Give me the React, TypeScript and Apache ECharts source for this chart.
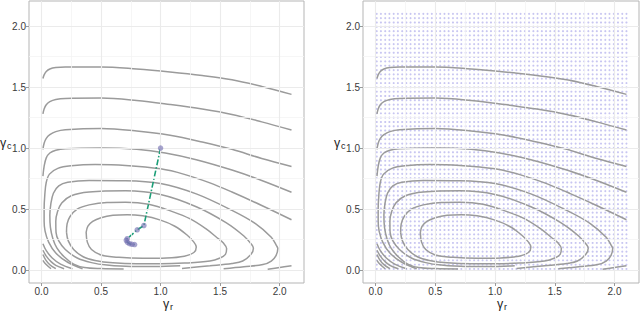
import React, { useEffect, useRef } from 'react';
import * as echarts from 'echarts';

// ---- axis breaks ----
const majorBreaks = [0, 0.5, 1, 1.5, 2];
const minorBreaks = [0.25, 0.75, 1.25, 1.75];
const axisMin = -0.105;
const axisMax = 2.205;

// ---- evaluation grid (right panel) ----
const gridValues = [
  0.010, 0.045, 0.081, 0.116, 0.152, 0.187, 0.223, 0.258, 0.293, 0.329,
  0.364, 0.400, 0.435, 0.471, 0.506, 0.541, 0.577, 0.612, 0.648, 0.683,
  0.718, 0.754, 0.789, 0.825, 0.860, 0.896, 0.931, 0.966, 1.002, 1.037,
  1.073, 1.108, 1.144, 1.179, 1.214, 1.250, 1.285, 1.321, 1.356, 1.392,
  1.427, 1.462, 1.498, 1.533, 1.569, 1.604, 1.639, 1.675, 1.710, 1.746,
  1.781, 1.817, 1.852, 1.887, 1.923, 1.958, 1.994, 2.029, 2.065, 2.100,
];

// ---- optimisation path (left panel) ----
const pathR = [1.0, 0.86, 0.804, 0.72, 0.712, 0.722, 0.74, 0.76, 0.782];
const pathC = [1.0, 0.366, 0.331, 0.258, 0.245, 0.228, 0.217, 0.212, 0.21];

// ---- contour segments [gamma_r, gamma_c] ----
const contourC1 = [[0.012,1.57],[0.022,1.6],[0.04,1.628],[0.07,1.648],[0.12,1.66],[0.2,1.665],[0.5,1.665],[0.8,1.648],[1.08,1.624],[1.35,1.595],[1.6,1.56],[1.85,1.505],[2.1,1.44]];
const contourC2 = [[0.012,1.28],[0.022,1.32],[0.04,1.355],[0.07,1.38],[0.12,1.398],[0.2,1.407],[0.5,1.41],[0.8,1.39],[1.08,1.357],[1.35,1.32],[1.6,1.276],[1.85,1.215],[2.1,1.148]];
const contourC3 = [[0.012,0.99],[0.022,1.04],[0.04,1.08],[0.07,1.11],[0.12,1.135],[0.2,1.15],[0.5,1.16],[0.8,1.14],[1.08,1.105],[1.35,1.05],[1.6,0.99],[1.85,0.915],[2.1,0.85]];
const contourC4 = [[0.012,0.77],[0.022,0.85],[0.04,0.92],[0.07,0.96],[0.12,0.983],[0.2,0.995],[0.5,1.0],[0.8,0.99],[1.04,0.96],[1.3,0.905],[1.6,0.82],[1.85,0.735],[2.1,0.638]];
const contourC5 = [[2.1,0.413],[1.85,0.53],[1.6,0.64],[1.415,0.715],[1.2,0.785],[1.0,0.83],[0.706,0.858],[0.45,0.865],[0.25,0.855],[0.137,0.834],[0.067,0.787],[0.04,0.72],[0.028,0.62],[0.022,0.5],[0.022,0.4],[0.03,0.32],[0.06,0.23],[0.12,0.14],[0.22,0.065],[0.345,0.012]];
const contourC5Low = [[1.9,0.008],[2.0,0.022],[2.1,0.036]];
const contourL4 = [[0.69,0.01],[0.5,0.013],[0.36,0.022],[0.27,0.05],[0.19,0.11],[0.13,0.18],[0.095,0.26],[0.075,0.35],[0.07,0.45],[0.078,0.54],[0.1,0.63],[0.145,0.69],[0.22,0.72],[0.4,0.735],[0.706,0.733],[1.0,0.71],[1.3,0.625],[1.6,0.49],[1.8,0.38],[1.93,0.27],[1.975,0.2],[1.985,0.177],[1.97,0.12],[1.93,0.075],[1.86,0.046],[1.7,0.028],[1.53,0.012]];
const contourL3a = [[1.165,0.036],[0.95,0.03],[0.75,0.03],[0.55,0.042],[0.42,0.062],[0.3,0.1],[0.2,0.17],[0.145,0.24],[0.122,0.31],[0.12,0.4],[0.135,0.48],[0.17,0.55],[0.25,0.61],[0.4,0.64],[0.706,0.65],[1.0,0.62],[1.3,0.52],[1.55,0.39],[1.7,0.28],[1.765,0.21],[1.78,0.18],[1.76,0.13],[1.69,0.075],[1.6,0.055],[1.415,0.036],[1.18,0.014]];
const contourL2 = [[0.21,0.31],[0.215,0.38],[0.24,0.44],[0.3,0.5],[0.4,0.535],[0.55,0.555],[0.706,0.557],[0.9,0.54],[1.1,0.48],[1.25,0.42],[1.38,0.34],[1.47,0.27],[1.53,0.22],[1.555,0.177],[1.545,0.13],[1.5,0.1],[1.415,0.075],[1.2,0.058],[1.0,0.052],[0.8,0.052],[0.6,0.06],[0.45,0.08],[0.35,0.11],[0.27,0.17],[0.225,0.24],[0.21,0.31]];
const contourL1 = [[0.375,0.31],[0.39,0.36],[0.43,0.4],[0.5,0.43],[0.6,0.45],[0.72,0.455],[0.85,0.445],[1.0,0.41],[1.12,0.36],[1.22,0.29],[1.28,0.23],[1.3,0.19],[1.28,0.145],[1.2,0.115],[1.05,0.1],[0.85,0.097],[0.65,0.105],[0.5,0.125],[0.42,0.17],[0.385,0.23],[0.375,0.31]];
const cornerD4 = [[0.012,0.217],[0.04,0.16],[0.09,0.1],[0.16,0.05],[0.26,0.012]];
const cornerD3 = [[0.012,0.163],[0.04,0.115],[0.08,0.07],[0.12,0.04],[0.19,0.012]];
const cornerD2 = [[0.012,0.128],[0.035,0.085],[0.07,0.045],[0.12,0.012]];
const cornerD1 = [[0.012,0.081],[0.035,0.05],[0.08,0.012]];

const contourSegments = [
  contourC1, contourC2, contourC3, contourC4, contourC5, contourC5Low,
  contourL4, contourL3a, contourL2, contourL1,
  cornerD4, cornerD3, cornerD2, cornerD1,
];

const FONT = '"Liberation Sans", Arial, Helvetica, sans-serif';

export default function App() {
  const ref = useRef<HTMLDivElement>(null);
  useEffect(() => {
    if (!ref.current) return;
    const chart = echarts.init(ref.current, undefined, { renderer: 'svg' });

    const grids = [
      { left: 29, right: 336, top: 1, bottom: 40 },
      { left: 363, right: 1, top: 1, bottom: 40 },
    ].map((g) => ({
      ...g,
      show: true,
      backgroundColor: '#ffffff',
      borderColor: '#b5b5b5',
      borderWidth: 1,
      containLabel: false,
    }));

    const makeAxis = (gi: number, isX: boolean) => ({
      type: 'value',
      gridIndex: gi,
      min: axisMin,
      max: axisMax,
      axisLine: { show: false, onZero: false },
      splitLine: { show: false },
      axisTick: {
        show: true,
        length: 3,
        lineStyle: { color: '#9a9a9a', width: 1 },
        customValues: majorBreaks,
      },
      axisLabel: {
        customValues: majorBreaks,
        formatter: (v: number) => v.toFixed(1),
        fontSize: 10,
        lineHeight: 9,
        color: '#3a3a3a',
        fontFamily: FONT,
        margin: isX ? 3.5 : 3,
      },
    });

    const series: any[] = [];
    [0, 1].forEach((gi) => {
      series.push({
        type: 'line',
        xAxisIndex: gi,
        yAxisIndex: gi,
        data: [],
        silent: true,
        z: 1,
        markLine: {
          silent: true,
          symbol: 'none',
          label: { show: false },
          animation: false,
          data: [
            ...minorBreaks.map((v) => ({ xAxis: v, lineStyle: { color: '#f4f4f4', width: 0.8, type: 'solid' } })),
            ...minorBreaks.map((v) => ({ yAxis: v, lineStyle: { color: '#f4f4f4', width: 0.8, type: 'solid' } })),
            ...majorBreaks.map((v) => ({ xAxis: v, lineStyle: { color: '#ebebeb', width: 1.1, type: 'solid' } })),
            ...majorBreaks.map((v) => ({ yAxis: v, lineStyle: { color: '#ebebeb', width: 1.1, type: 'solid' } })),
          ],
        },
      });
    });

    const dots: number[][] = [];
    gridValues.forEach((r) => gridValues.forEach((c) => dots.push([r, c])));
    series.push({
      type: 'scatter',
      xAxisIndex: 1,
      yAxisIndex: 1,
      data: dots,
      symbol: 'circle',
      symbolSize: 2.1,
      itemStyle: { color: 'rgba(118,112,220,0.5)' },
      silent: true,
      z: 2,
    });

    [0, 1].forEach((gi) => {
      contourSegments.forEach((seg) => {
        series.push({
          type: 'line',
          xAxisIndex: gi,
          yAxisIndex: gi,
          data: seg,
          showSymbol: false,
          smooth: 0.35,
          silent: true,
          z: 3,
          lineStyle: { color: '#9b9b9b', width: 1.5 },
        });
      });
    });

    const pathData = pathR.map((r, i) => [r, pathC[i]]);
    series.push({
      type: 'line',
      xAxisIndex: 0,
      yAxisIndex: 0,
      data: pathData,
      showSymbol: false,
      z: 4,
      silent: true,
      lineStyle: { color: '#1b9e77', width: 1.6, type: [6, 2, 1.5, 2] },
    });
    series.push({
      type: 'scatter',
      xAxisIndex: 0,
      yAxisIndex: 0,
      data: pathData,
      symbol: 'circle',
      symbolSize: 5.5,
      z: 5,
      silent: true,
      itemStyle: { color: 'rgba(117,112,179,0.8)', borderWidth: 0 },
    });

    const title = (x: number, y: number, main: string, sub: string) => [
      { type: 'text', x, y, style: { text: main, font: `12.5px ${FONT}`, lineHeight: 10, fill: '#222', verticalAlign: 'middle' } },
      { type: 'text', x: x + 7, y: y + 3, style: { text: sub, font: `9px ${FONT}`, lineHeight: 7, fill: '#222', verticalAlign: 'middle' } },
    ];

    chart.setOption({
      animation: false,
      grid: grids,
      xAxis: [makeAxis(0, true), makeAxis(1, true)],
      yAxis: [makeAxis(0, false), makeAxis(1, false)],
      series,
      graphic: [
        ...title(0, 143, 'γ', 'c'),
        ...title(334, 143, 'γ', 'c'),
        ...title(163, 304, 'γ', 'r'),
        ...title(497, 304, 'γ', 'r'),
      ],
    });
    return () => chart.dispose();
  }, []);
  return (
    <div
      ref={ref}
      style={{ position: 'fixed', left: 0, top: 0, width: 640, height: 323, background: '#fff' }}
    />
  );
}
